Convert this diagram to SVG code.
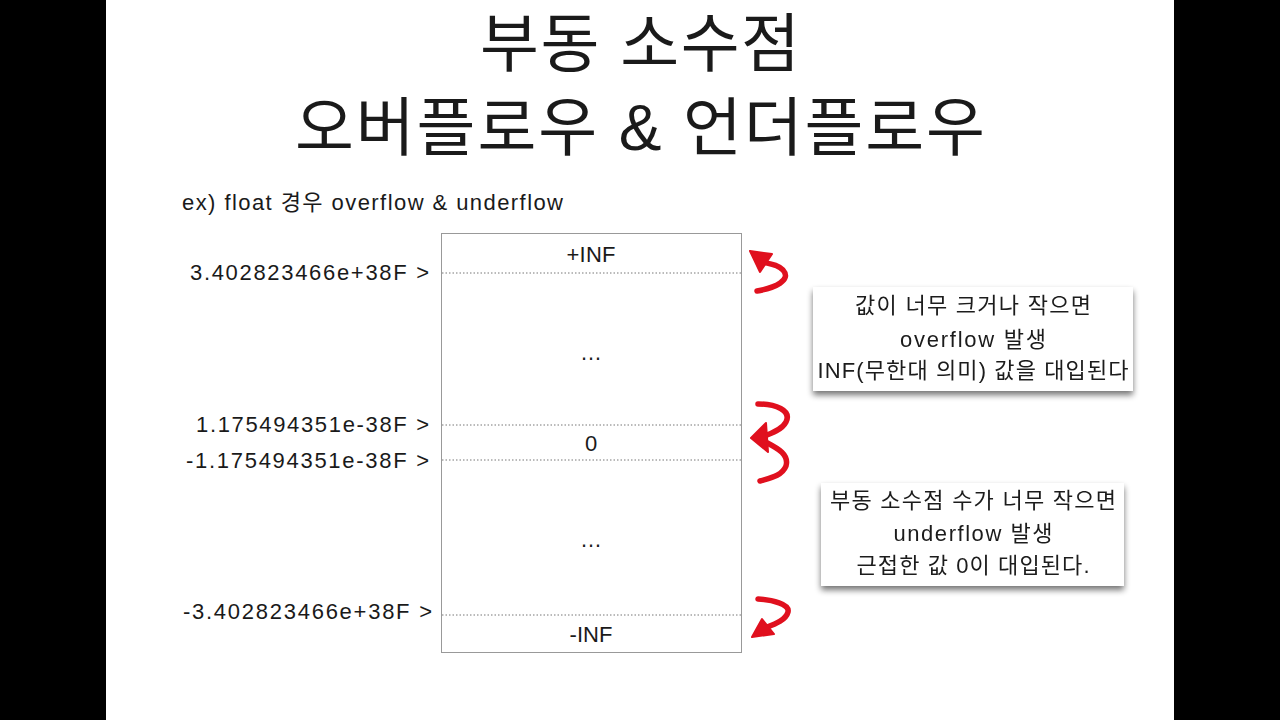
<svg xmlns="http://www.w3.org/2000/svg" width="1280" height="720" viewBox="0 0 1280 720">
<defs>
<style>
text{font-family:"Liberation Sans","Noto Sans CJK KR",sans-serif;fill:#1a1a1a}
.t{font-size:64px;text-anchor:middle}
.s{font-size:22px}
.c{font-size:22px;text-anchor:middle}
.dot{stroke:#777;stroke-width:1;stroke-dasharray:1.5 2}
.red{fill:none;stroke:#e0101e;stroke-width:5.5;stroke-linecap:round;stroke-linejoin:round}
.head{fill:#e0101e;stroke:#e0101e;stroke-width:2;stroke-linejoin:round}
.callout{fill:#fff}
</style>
<filter id="sh" x="-10%" y="-10%" width="120%" height="130%">
<feGaussianBlur in="SourceAlpha" stdDeviation="3"/>
<feOffset dx="0" dy="4"/>
<feComponentTransfer><feFuncA type="linear" slope="0.55"/></feComponentTransfer>
<feMerge><feMergeNode/><feMergeNode in="SourceGraphic"/></feMerge>
</filter>
</defs>
<rect width="1280" height="720" fill="#000"/>
<rect x="106" y="0" width="1068" height="720" fill="#fff"/>
<g id="title">
<text class="t" x="640" y="66" textLength="320">부동 소수점</text>
<text class="t" x="640" y="150" textLength="690">오버플로우 &amp; 언더플로우</text>
</g>
<g id="subtitle"><text class="s" x="182" y="210" textLength="381">ex) float 경우 overflow &amp; underflow</text></g>
<g id="range-box">
<rect x="441.5" y="233.5" width="300" height="419" fill="#fff" stroke="#999" stroke-width="1"/>
<line class="dot" x1="442" y1="273" x2="741" y2="273"/>
<line class="dot" x1="442" y1="425" x2="741" y2="425"/>
<line class="dot" x1="442" y1="460" x2="741" y2="460"/>
<line class="dot" x1="442" y1="615" x2="741" y2="615"/>
<text class="c" x="591" y="262" textLength="49">+INF</text>
<text class="c" x="591" y="360">…</text>
<text class="c" x="591" y="451">0</text>
<text class="c" x="591" y="547">…</text>
<text class="c" x="591" y="642" textLength="43">-INF</text>
</g>
<g id="labels" style="text-anchor:end">
<text class="s" x="429" y="280" textLength="239">3.402823466e+38F &gt;</text>
<text class="s" x="429" y="432" textLength="233">1.175494351e-38F &gt;</text>
<text class="s" x="429" y="468" textLength="243">-1.175494351e-38F &gt;</text>
<text class="s" x="432" y="619" textLength="249">-3.402823466e+38F &gt;</text>
</g>
<g id="connectors">
<path class="red" d="M757,291 C775,288 792,280 783,270 C777,264 770,264 762,262"/>
<path class="head" d="M750,251 L772,254 L760,272 Z"/>
<path class="red" d="M758,404 C775,404 792,410 786,422 C782,430 770,434 762,437"/>
<path class="red" d="M762,440 C772,446 790,452 786,466 C782,476 770,478 760,481"/>
<path class="head" d="M751,438 L766,423 L768,452 Z"/>
<path class="red" d="M758,599 C772,600 790,604 788,612 C786,620 775,624 765,628"/>
<path class="head" d="M752,637 L762,619 L774,634 Z"/>
</g>
<g id="callout-overflow" filter="url(#sh)">
<rect class="callout" x="813" y="287" width="320" height="104"/>
<text class="c" x="973" y="313" textLength="236">값이 너무 크거나 작으면</text>
<text class="c" x="973" y="347" textLength="146">overflow 발생</text>
<text class="c" x="973" y="378" textLength="311">INF(무한대 의미) 값을 대입된다</text>
</g>
<g id="callout-underflow" filter="url(#sh)">
<rect class="callout" x="821" y="483" width="303" height="103"/>
<text class="c" x="973" y="508" textLength="286">부동 소수점 수가 너무 작으면</text>
<text class="c" x="973" y="541" textLength="159">underflow 발생</text>
<text class="c" x="973" y="573" textLength="233">근접한 값 0이 대입된다.</text>
</g>
</svg>
